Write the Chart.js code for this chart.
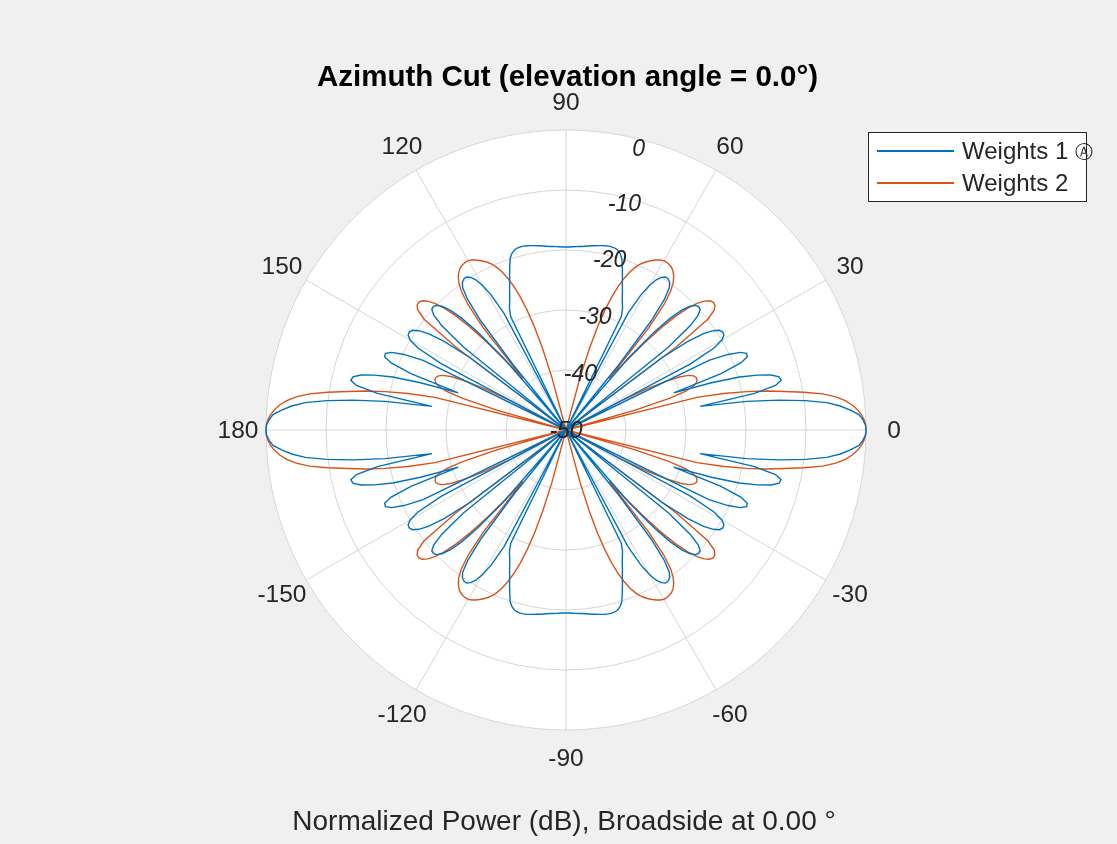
<!DOCTYPE html>
<html>
<head>
<meta charset="utf-8">
<script src="https://cdn.jsdelivr.net/npm/chart.js@4.4.1/dist/chart.umd.min.js"></script>
<style>
  html, body { margin: 0; padding: 0; background: #f0f0f0; }
  #wrap { position: relative; width: 1117px; height: 844px; font-family: "Liberation Sans", Arial, Helvetica, sans-serif; color: #262626; }
  #chart { position: absolute; left: 0; top: 0; }
  .title { position: absolute; left: 0; width: 1135px; top: 61px; line-height: 29px; text-align: center; font-weight: bold; font-size: 29.5px; color: #000; }
  .caption { position: absolute; left: 0; width: 1128px; top: 807px; line-height: 28px; text-align: center; font-size: 28px; }
  .legend { position: absolute; left: 868px; top: 132px; width: 217px; height: 68px; background: #fff; border: 1px solid #262626; }
  .legend .row { position: absolute; left: 0; height: 24px; line-height: 24px; font-size: 24px; white-space: nowrap; }
  .legend .swatch { position: absolute; left: 8px; width: 77px; height: 0; border-top: 2px solid; }
  .legend .txt { position: absolute; left: 93px; top: 0; }
  .legend .mark { font-size: 18px; vertical-align: 1px; }
</style>
</head>
<body>
<div id="wrap">
  <canvas id="chart" width="1117" height="844"></canvas>
  <div class="title">Azimuth Cut (elevation angle = 0.0°)</div>
  <div class="legend" id="legend"></div>
  <div class="caption">Normalized Power (dB), Broadside at 0.00 °</div>
</div>
<script>
// normalized power (dB) every 1 degree from 0 to 90 azimuth; the cut is symmetric about 0 and 90
const weights1 = [
  0, -0.1, -0.5, -1.1, -2.5, -4.1, -6.3, -9.8, -14.2, -19.5,
  -27.3, -18, -14.3, -13.2, -13.4, -14.6, -16.8, -19.8, -24.5, -31,
  -22.5, -18.8, -17.4, -17.3, -18.2, -20.2, -23.5, -50, -26.5, -21.8,
  -20, -19.3, -19.2, -19.5, -20.4, -22, -24.8, -30, -50, -28,
  -23, -20.8, -19.9, -19.8, -20.1, -20.9, -22.3, -24.5, -28, -34,
  -50, -36, -27, -22.8, -20.7, -19.9, -19.6, -19.6, -20, -20.8,
  -22.2, -24.3, -28, -50, -29, -27.7, -26.9, -26, -24.9, -23.8,
  -22.5, -21.2, -19.9, -19.2, -18.8, -18.6, -18.55, -18.55, -18.6, -18.7,
  -18.8, -18.9, -19, -19.1, -19.2, -19.3, -19.35, -19.4, -19.45, -19.5,
  -19.5
];
const weights2 = [
  0, -0.05, -0.3, -0.7, -1.3, -2.1, -3.2, -4.7, -6.8, -9.8,
  -13, -16, -19.2, -23, -27.5, -50, -38, -32, -29, -27.5,
  -26.9, -26.6, -26.6, -26.9, -27.6, -29, -31.5, -35, -40, -50,
  -50, -50, -50, -50, -50, -50, -50, -27, -20, -18.2,
  -17.6, -17.5, -17.8, -18.5, -19.6, -21.2, -23.5, -26.5, -30.5, -35,
  -38.8, -28, -23.5, -21, -19.6, -18.7, -18.1, -17.7, -17.5, -17.4,
  -17.4, -17.6, -17.9, -18.3, -18.7, -19.2, -19.8, -20.6, -21.6, -22.9,
  -24.5, -26.5, -29, -32, -36, -41, -50, -50, -50, -50,
  -50, -50, -50, -50, -50, -50, -50, -50, -50, -50,
  -50
];
const seriesNames = ["Weights 1 \u24B6", "Weights 2"];
const seriesColors = ["rgb(0,114,189)", "rgb(217,83,25)"];
const angleTicks = [0, 30, 60, 90, 120, 150, 180, -150, -120, -90, -60, -30];
const magTicks = [0, -10, -20, -30, -40, -50];

// radar goes clockwise from the start angle, so index i is azimuth -i
const labels = [];
const data1 = [];
const data2 = [];
for (let i = 0; i < 360; i++) {
  let az = -i;
  if (az <= -180) az += 360;
  labels.push(String(az));
  let a = Math.abs(az);
  if (a > 90) a = 180 - a;
  data1.push(weights1[a]);
  data2.push(weights2[a]);
}

const polarLabels = {
  id: "polarLabels",
  afterDatasetsDraw(chart) {
    const r = chart.scales.r;
    const ctx = chart.ctx;
    ctx.save();
    ctx.fillStyle = "#262626";
    ctx.textAlign = "center";
    ctx.textBaseline = "middle";
    ctx.font = '24.5px "Liberation Sans", Arial, sans-serif';
    angleTicks.forEach((a) => {
      const idx = ((-a % 360) + 360) % 360;
      const p = r.getPointPosition(idx, r.drawingArea + 28);
      ctx.fillText(String(a), p.x, p.y + 1);
    });
    ctx.font = 'italic 23px "Liberation Sans", Arial, sans-serif';
    magTicks.forEach((v) => {
      const d = r.getDistanceFromCenterForValue(v);
      const off = v === 0 ? 10 : d * 0.025 + 1;
      const p = r.getPointPosition(360 - 75.5, Math.max(0, d - off));
      ctx.fillText(String(v), p.x, p.y + (v === -50 ? 2 : 0));
    });
    ctx.restore();
  }
};

const ctx = document.getElementById("chart").getContext("2d");
new Chart(ctx, {
  type: "radar",
  data: {
    labels,
    datasets: [
      { label: seriesNames[0], data: data1, borderColor: seriesColors[0], backgroundColor: seriesColors[0], borderWidth: 1.4, fill: false },
      { label: seriesNames[1], data: data2, borderColor: seriesColors[1], backgroundColor: seriesColors[1], borderWidth: 1.4, fill: false }
    ]
  },
  options: {
    responsive: false,
    animation: false,
    layout: { padding: { left: 266, top: 130, right: 251, bottom: 114 } },
    elements: { point: { radius: 0, hoverRadius: 0 }, line: { tension: 0 } },
    plugins: { legend: { display: false }, tooltip: { enabled: false } },
    scales: {
      r: {
        min: -50,
        max: 0,
        startAngle: 90,
        backgroundColor: "#ffffff",
        ticks: { display: false, stepSize: 10 },
        grid: { circular: true, color: "#d6d6d6", lineWidth: 1 },
        angleLines: { display: true, color: "#d6d6d6", lineWidth: (c) => (c.index % 30 === 0 ? 1 : 0) },
        pointLabels: { display: false }
      }
    }
  },
  plugins: [polarLabels]
});

// legend box like the MATLAB one
const legend = document.getElementById("legend");
seriesNames.forEach((name, k) => {
  const row = document.createElement("div");
  row.className = "row";
  row.style.top = (6 + k * 32) + "px";
  row.style.width = "217px";
  const text = name.replace("\u24B6", '<span class="mark">\u24B6</span>');
  row.innerHTML = '<span class="swatch" style="top:11px;border-color:' + seriesColors[k] + '"></span><span class="txt">' + text + "</span>";
  legend.appendChild(row);
});
</script>
</body>
</html>
